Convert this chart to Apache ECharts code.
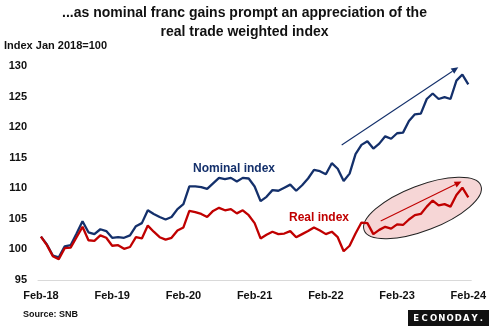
<!DOCTYPE html>
<html>
<head>
<meta charset="utf-8">
<script src="https://cdn.jsdelivr.net/npm/echarts@6/dist/echarts.min.js"></script>
<style>
html,body{margin:0;padding:0;background:#fff;}
#c{width:489px;height:326px;}
</style>
</head>
<body>
<div id="c"></div>
<script>
var categories = [
 "Feb-18","Mar-18","Apr-18","May-18","Jun-18","Jul-18","Aug-18","Sep-18","Oct-18","Nov-18","Dec-18","Jan-19",
 "Feb-19","Mar-19","Apr-19","May-19","Jun-19","Jul-19","Aug-19","Sep-19","Oct-19","Nov-19","Dec-19","Jan-20",
 "Feb-20","Mar-20","Apr-20","May-20","Jun-20","Jul-20","Aug-20","Sep-20","Oct-20","Nov-20","Dec-20","Jan-21",
 "Feb-21","Mar-21","Apr-21","May-21","Jun-21","Jul-21","Aug-21","Sep-21","Oct-21","Nov-21","Dec-21","Jan-22",
 "Feb-22","Mar-22","Apr-22","May-22","Jun-22","Jul-22","Aug-22","Sep-22","Oct-22","Nov-22","Dec-22","Jan-23",
 "Feb-23","Mar-23","Apr-23","May-23","Jun-23","Jul-23","Aug-23","Sep-23","Oct-23","Nov-23","Dec-23","Jan-24",
 "Feb-24"
];
var nominalIndex = [
 102.1,100.8,99.0,98.7,100.5,100.7,102.6,104.6,102.8,102.5,103.3,103.0,
 101.9,102.0,101.9,102.3,103.8,104.3,106.4,105.8,105.3,104.9,105.3,106.6,
 107.4,110.3,110.3,110.2,109.9,110.8,111.7,111.5,111.7,111.1,111.7,111.6,
 110.3,107.9,108.6,109.7,109.6,110.1,110.6,109.6,110.5,111.6,113.0,112.8,
 112.3,114.1,113.2,111.2,112.4,115.6,117.1,117.7,116.5,117.3,118.5,118.1,
 119.0,119.1,121.0,122.1,122.2,124.6,125.5,124.6,124.9,124.6,127.6,128.6,
 127.0
];
var realIndex = [
 102.1,100.7,98.9,98.4,100.2,100.3,102.0,103.7,101.5,101.4,102.3,101.9,
 100.6,100.7,100.1,100.4,102.0,101.8,103.9,102.9,102.0,101.6,101.9,103.1,
 103.6,106.3,106.1,105.8,105.3,106.3,106.8,106.4,106.6,105.9,106.4,105.6,
 104.3,101.8,102.4,102.9,102.5,102.6,103.0,102.0,102.5,103.0,103.6,103.1,
 102.5,102.9,102.0,99.7,100.6,102.6,104.4,104.3,102.5,103.2,103.7,103.4,
 104.1,104.0,104.9,105.6,105.8,107.0,108.0,107.2,107.4,107.0,108.9,110.1,
 108.5
];
var yTicks = { min: 95, max: 130, interval: 5 };
var titleLines = ["...as nominal franc gains prompt an appreciation of the", "real trade weighted index"];

var NAVY = "#14306b", RED = "#c00000";
var FONT = "Liberation Sans";

var chart = echarts.init(document.getElementById('c'), null, {renderer: 'canvas'});

function arrow(x1, y1, x2, y2, color, z) {
  var ang = Math.atan2(y2 - y1, x2 - x1), L = 7, W = 3.2;
  var bx = x2 - L * Math.cos(ang), by = y2 - L * Math.sin(ang);
  var px = -Math.sin(ang) * W, py = Math.cos(ang) * W;
  return [
    {type: 'line', z: z, shape: {x1: x1, y1: y1, x2: bx, y2: by}, style: {stroke: color, lineWidth: 1.1}},
    {type: 'polygon', z: z, shape: {points: [[x2, y2], [bx + px, by + py], [bx - px, by - py]]}, style: {fill: color}}
  ];
}

var logoLetters = "ECONODAY.".split("");
var logo = [{type: 'rect', z: 5, shape: {x: 408, y: 310, width: 81, height: 16}, style: {fill: '#111'}}];
logoLetters.forEach(function (ch, k) {
  logo.push({type: 'text', z: 6, x: 413.3 + k * 8.3, y: 318.5,
    style: {text: ch, fill: '#fff', font: 'bold 8.5px "DejaVu Sans"', textVerticalAlign: 'middle', textAlign: 'left'}});
});

var graphics = [
  {type: 'text', left: 'center', top: 6, style: {text: titleLines[0], font: 'bold 14px "' + FONT + '"', fill: '#111'}},
  {type: 'text', left: 'center', top: 25, style: {text: titleLines[1], font: 'bold 14px "' + FONT + '"', fill: '#111'}},
  {type: 'text', x: 4, y: 45.5, style: {text: 'Index Jan 2018=100', font: 'bold 11px "' + FONT + '"', fill: '#111', textVerticalAlign: 'middle'}},
  {type: 'text', x: 23, y: 315, style: {text: 'Source: SNB', font: 'bold 9px "' + FONT + '"', fill: '#111', textVerticalAlign: 'middle'}},
  {type: 'text', x: 193, y: 169, style: {text: 'Nominal index', font: 'bold 12px "' + FONT + '"', fill: NAVY, textVerticalAlign: 'middle'}},
  {type: 'text', x: 289, y: 217.5, style: {text: 'Real index', font: 'bold 12px "' + FONT + '"', fill: RED, textVerticalAlign: 'middle'}},
  {type: 'ellipse', z: 0, x: 422.5, y: 208, rotation: 21 * Math.PI / 180,
    shape: {cx: 0, cy: 0, rx: 62.5, ry: 22.5}, style: {fill: '#f6d6d6', stroke: '#222', lineWidth: 1}}
].concat(arrow(341.7, 145, 458.3, 67.3, NAVY, 10))
 .concat(arrow(380.7, 221, 461.5, 181.5, RED, 10))
 .concat(logo);

chart.setOption({
  animation: false,
  backgroundColor: '#fff',
  grid: {left: 38, right: 14, top: 66, bottom: 46, containLabel: false},
  xAxis: {
    type: 'category', data: categories, boundaryGap: true,
    axisLine: {show: true, lineStyle: {color: '#d9d9d9', width: 1}},
    axisTick: {show: false},
    axisLabel: {interval: 11, margin: 10, color: '#111', fontFamily: FONT, fontWeight: 'bold', fontSize: 11}
  },
  yAxis: {
    type: 'value', min: yTicks.min, max: yTicks.max, interval: yTicks.interval,
    axisLine: {show: false}, axisTick: {show: false}, splitLine: {show: false},
    axisLabel: {margin: 11, color: '#111', fontFamily: FONT, fontWeight: 'bold', fontSize: 11}
  },
  graphic: graphics,
  series: [
    {name: 'Nominal index', type: 'line', data: nominalIndex, symbol: 'none', z: 3,
     lineStyle: {color: NAVY, width: 2.3}},
    {name: 'Real index', type: 'line', data: realIndex, symbol: 'none', z: 3,
     lineStyle: {color: RED, width: 2.3}}
  ]
});
</script>
</body>
</html>
